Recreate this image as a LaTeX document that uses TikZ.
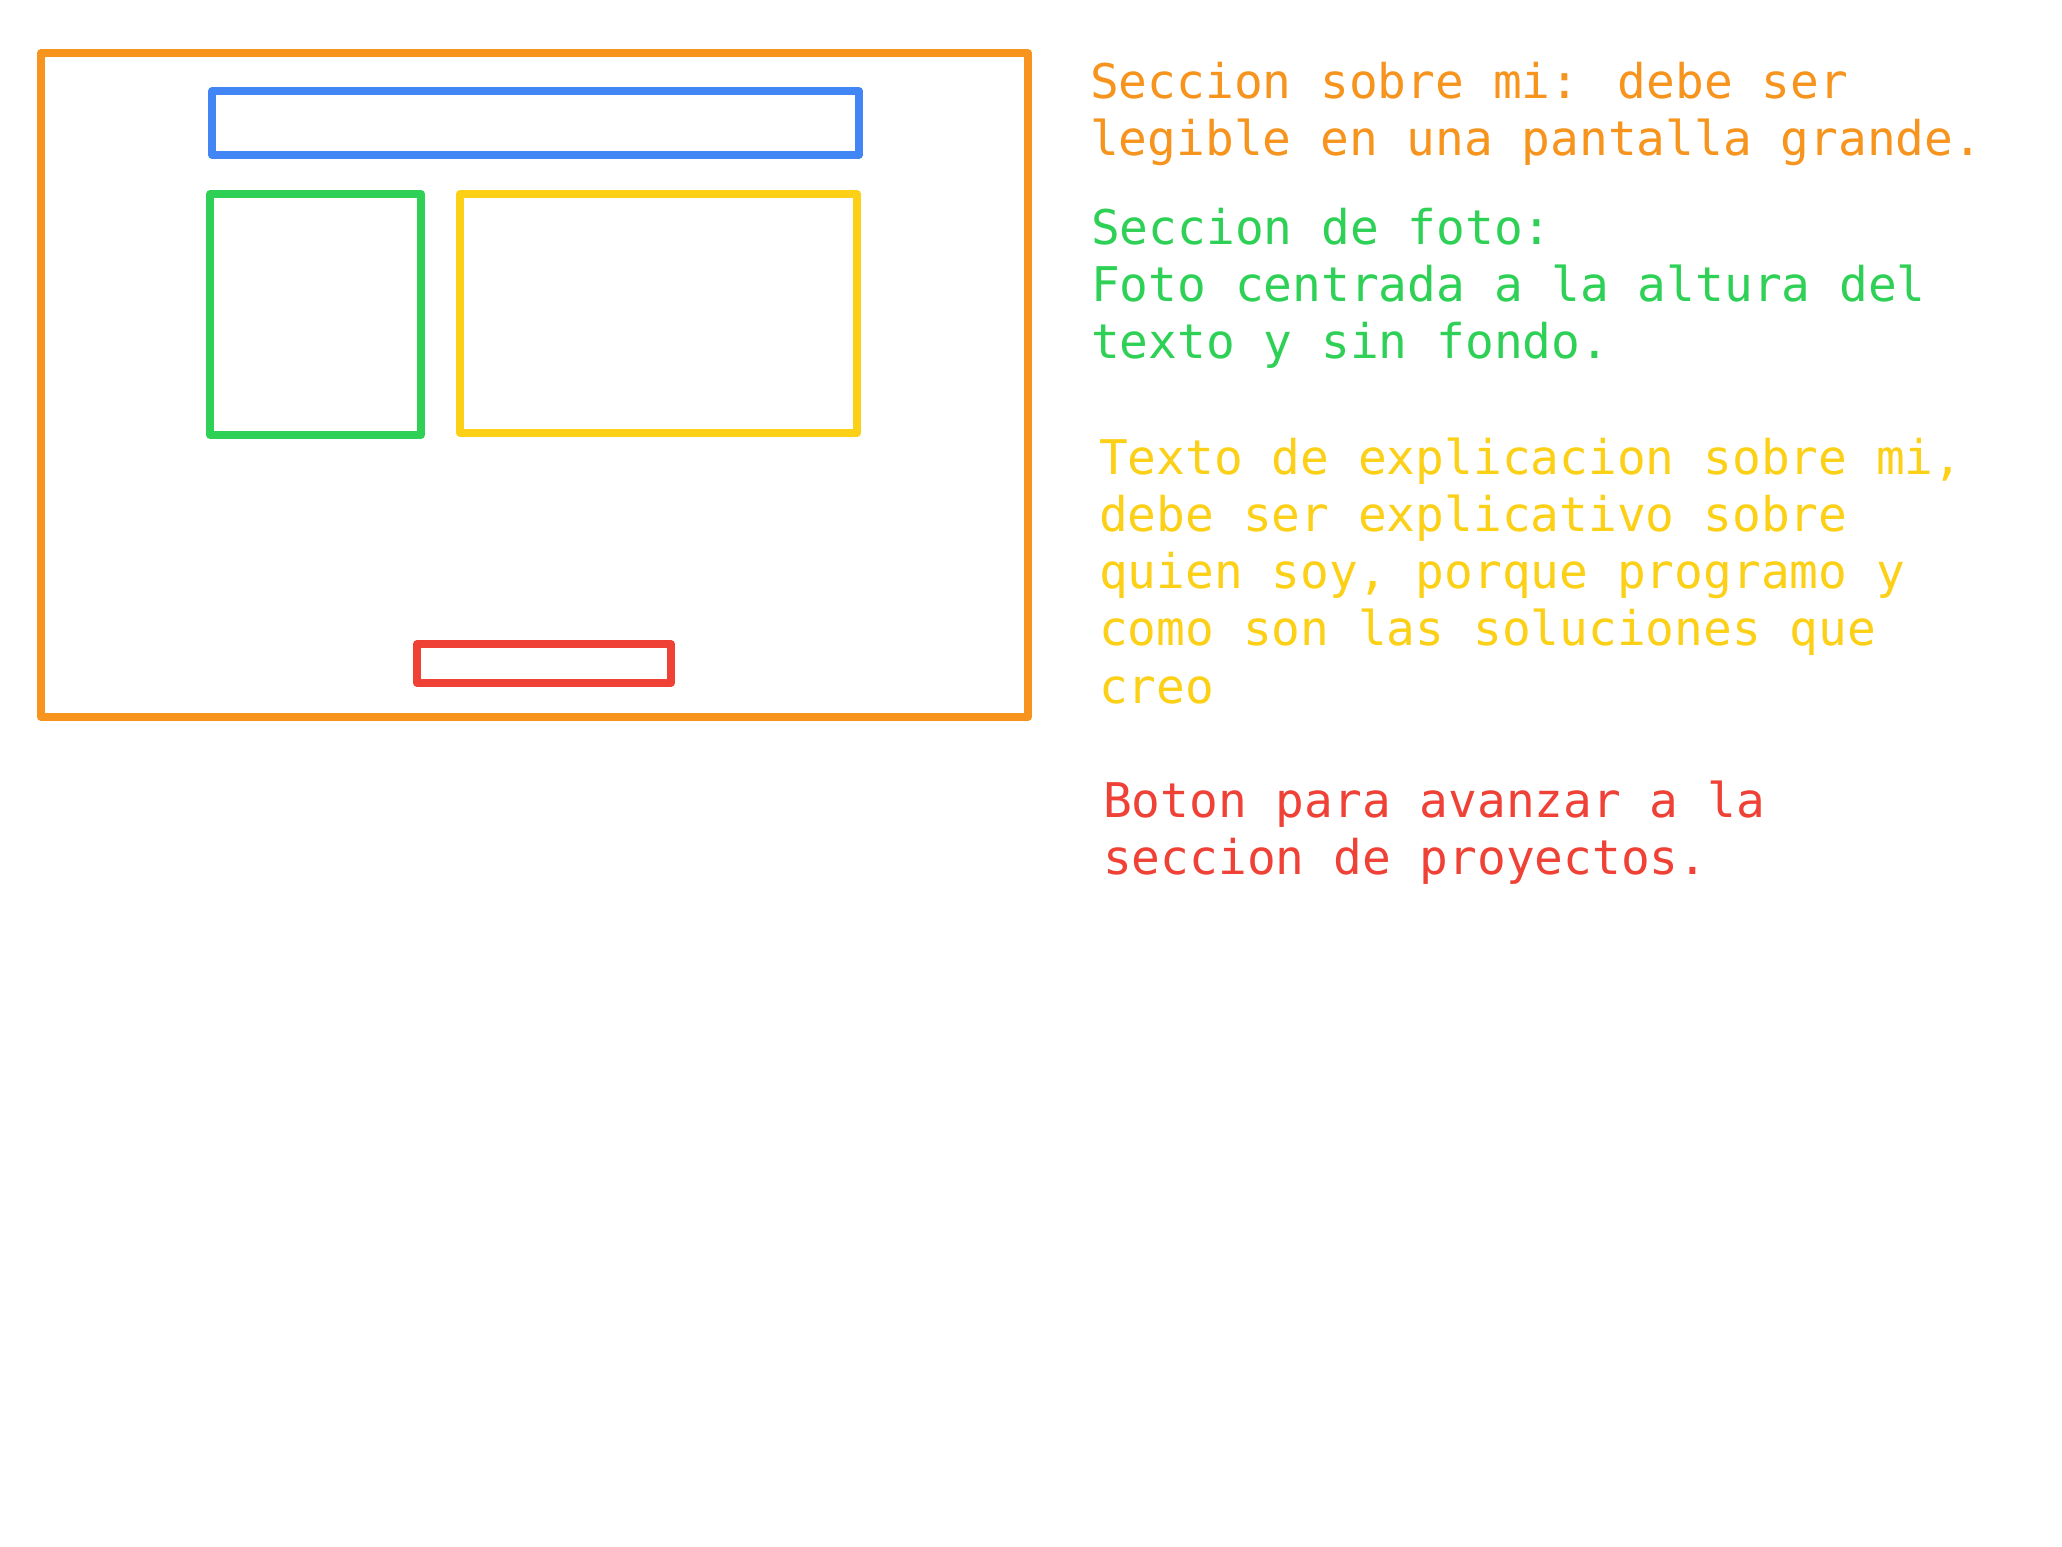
\documentclass[tikz,border=0pt]{standalone}
\usepackage{fontspec}
\newfontfamily\notefont{DejaVu Sans Mono}
\definecolor{cOrange}{RGB}{247,148,30}
\definecolor{cBlue}{RGB}{66,133,244}
\definecolor{cGreen}{RGB}{46,209,86}
\definecolor{cYellow}{RGB}{252,208,23}
\definecolor{cRed}{RGB}{239,65,54}
\begin{document}
\begin{tikzpicture}[x=1pt,y=-1pt,
  frame/.style={line width=7.5pt,line join=round},
  % the strut fixes the first line's height at 40.04pt above its baseline
  note/.style={anchor=north west,inner sep=0pt,align=left,
    font=\notefont\fontsize{47.8}{57.2}\selectfont}]
\useasboundingbox[fill=white] (0,0) rectangle (2062,1547);
% page outline and its blocks
\draw[frame,cOrange] (41,53) rectangle (1028,717);
\draw[frame,cBlue]   (212,91) rectangle (859,155);
\draw[frame,cGreen]  (210,194) rectangle (421,435);
\draw[frame,cYellow] (460,194) rectangle (857,433);
\draw[frame,cRed]    (417,644) rectangle (671,683);
% notes (y = first baseline - 40.04)
\node[note,text=cOrange] (nOrange) at (1090,58)
  {\strut Seccion sobre mi: debe ser\\legible en una pantalla grande.};
\node[note,text=cGreen] (nGreen) at (1091,204)
  {\strut Seccion de foto:\\Foto centrada a la altura del\\texto y sin fondo.};
\node[note,text=cYellow] (nYellow) at (1099,434)
  {\strut Texto de explicacion sobre mi,\\debe ser explicativo sobre\\quien soy, porque programo y\\como son las soluciones que\\creo};
\node[note,text=cRed] (nRed) at (1103,777)
  {\strut Boton para avanzar a la\\seccion de proyectos.};
\end{tikzpicture}
\end{document}
